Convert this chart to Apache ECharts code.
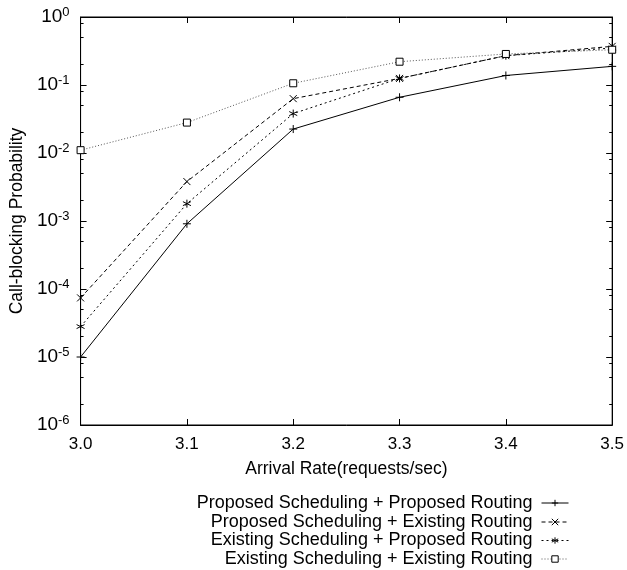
<!DOCTYPE html>
<html>
<head>
<meta charset="utf-8">
<script src="https://cdn.jsdelivr.net/npm/echarts@6/dist/echarts.min.js"></script>
<style>html,body{margin:0;padding:0;background:#fff;}#c{width:627px;height:570px;}</style>
</head>
<body>
<div id="c"></div>
<script>
const arrivalRates = [3.0, 3.1, 3.2, 3.3, 3.4, 3.5];
const seriesNames = [
  'Proposed Scheduling + Proposed Routing',
  'Proposed Scheduling + Existing Routing',
  'Existing Scheduling + Proposed Routing',
  'Existing Scheduling + Existing Routing'
];
const propPropValues = [1.0e-5, 9.1e-4, 0.0225, 0.066, 0.138, 0.188];
const propExistValues = [7.4e-5, 3.8e-3, 0.063, 0.125, 0.27, 0.37];
const existPropValues = [2.8e-5, 1.8e-3, 0.038, 0.125, 0.27, 0.35];
const existExistValues = [0.011, 0.028, 0.106, 0.22, 0.286, 0.33];
const yMajorTicks = [1e-6, 1e-5, 1e-4, 1e-3, 1e-2, 1e-1, 1];
const yMinorMultipliers = [2, 5, 8];

const yMinorTicks = [];
for (let d = -6; d < 0; d++) {
  yMinorMultipliers.forEach(m => yMinorTicks.push(m * Math.pow(10, d)));
}

const FONT = 'Liberation Sans';
const black = '#000';

const plusPath = 'path://M0,5L10,5M5,0L5,10';
const crossPath = 'path://M0,0L10,10M0,10L10,0';
const starPath = 'path://M5,0L5,10M0.67,2.5L9.33,7.5M0.67,7.5L9.33,2.5';

function pts(vals) { return arrivalRates.map((x, i) => [x, vals[i]]); }

const seriesDefs = [
  { name: seriesNames[0], data: pts(propPropValues), symbol: plusPath, symbolSize: 8, line: 'solid', color: black, fill: 'none' },
  { name: seriesNames[1], data: pts(propExistValues), symbol: crossPath, symbolSize: 7, line: [4, 3], color: black, fill: 'none' },
  { name: seriesNames[2], data: pts(existPropValues), symbol: starPath, symbolSize: 8, line: [2, 3], color: black, fill: 'none' },
  { name: seriesNames[3], data: pts(existExistValues), symbol: 'rect', symbolSize: 7, line: [1, 2], color: '#555', fill: '#fff' }
];

const series = seriesDefs.map(s => ({
  type: 'line',
  name: s.name,
  data: s.data,
  symbol: s.symbol,
  symbolSize: s.symbolSize,
  showAllSymbol: true,
  animation: false,
  lineStyle: { color: s.color, width: 1, type: s.line },
  itemStyle: { color: s.fill, borderColor: black, borderWidth: 1 },
  emphasis: { disabled: true }
}));

const legendRowTops = [494, 513, 531.5, 550];
const legends = seriesNames.map((n, i) => ({
  data: [n],
  right: 58,
  top: legendRowTops[i],
  orient: 'vertical',
  align: 'right',
  padding: 0,
  itemWidth: 27,
  itemHeight: 8,
  selectedMode: false,
  lineStyle: { width: 1 },
  itemStyle: { borderWidth: 1 },
  textStyle: { fontFamily: FONT, fontSize: 18, color: black, lineHeight: 18, padding: [0, 4, 0, 0] }
}));

const chart = echarts.init(document.getElementById('c'), null, { renderer: 'canvas' });
chart.setOption({
  backgroundColor: '#fff',
  animation: false,
  grid: { left: 79.5, right: 13.5, top: 17, bottom: 145, show: true, borderColor: black, borderWidth: 1, backgroundColor: 'transparent' },
  legend: legends,
  xAxis: [
    {
      type: 'value', min: 3.0, max: 3.5, interval: 0.1, position: 'bottom',
      name: 'Arrival Rate(requests/sec)', nameLocation: 'middle', nameGap: 35,
      nameTextStyle: { fontFamily: FONT, fontSize: 17.5, color: black },
      axisLine: { show: true, lineStyle: { color: black, width: 1 } },
      axisTick: { show: true, inside: true, length: 6, lineStyle: { color: black } },
      axisLabel: { fontFamily: FONT, fontSize: 17, color: black, margin: 11, formatter: v => v.toFixed(1) },
      splitLine: { show: false }
    },
    {
      type: 'value', min: 3.0, max: 3.5, interval: 0.1, position: 'top',
      axisLine: { show: true, lineStyle: { color: black, width: 1 } },
      axisTick: { show: true, inside: true, length: 6, lineStyle: { color: black } },
      axisLabel: { show: false },
      splitLine: { show: false }
    }
  ],
  yAxis: [
    {
      type: 'log', logBase: 10, min: 1e-6, max: 1, position: 'left',
      name: 'Call-blocking Probability', nameLocation: 'middle', nameGap: 52,
      nameTextStyle: { fontFamily: FONT, fontSize: 17.5, color: black },
      axisLine: { show: true, lineStyle: { color: black, width: 1 } },
      axisTick: { show: true, inside: true, length: 6, lineStyle: { color: black }, customValues: yMajorTicks },
      axisLabel: {
        customValues: yMajorTicks,
        margin: 11,
        formatter: v => '{b|10}{s|' + Math.round(Math.log10(v)) + '}',
        rich: {
          b: { fontFamily: FONT, fontSize: 19, color: black },
          s: { fontFamily: FONT, fontSize: 13, color: black, verticalAlign: 'bottom', padding: [0, 0, 9, 0] }
        }
      },
      splitLine: { show: false }
    },
    {
      type: 'log', logBase: 10, min: 1e-6, max: 1, position: 'right',
      axisLine: { show: true, lineStyle: { color: black, width: 1 } },
      axisTick: { show: true, inside: true, length: 6, lineStyle: { color: black }, customValues: yMajorTicks },
      axisLabel: { show: false },
      splitLine: { show: false }
    },
    {
      type: 'log', logBase: 10, min: 1e-6, max: 1, position: 'left',
      axisLine: { show: false },
      axisTick: { show: true, inside: true, length: 3, lineStyle: { color: black }, customValues: yMinorTicks },
      axisLabel: { show: false },
      splitLine: { show: false }
    },
    {
      type: 'log', logBase: 10, min: 1e-6, max: 1, position: 'right',
      axisLine: { show: false },
      axisTick: { show: true, inside: true, length: 3, lineStyle: { color: black }, customValues: yMinorTicks },
      axisLabel: { show: false },
      splitLine: { show: false }
    }
  ],
  series: series
});
</script>
</body>
</html>
